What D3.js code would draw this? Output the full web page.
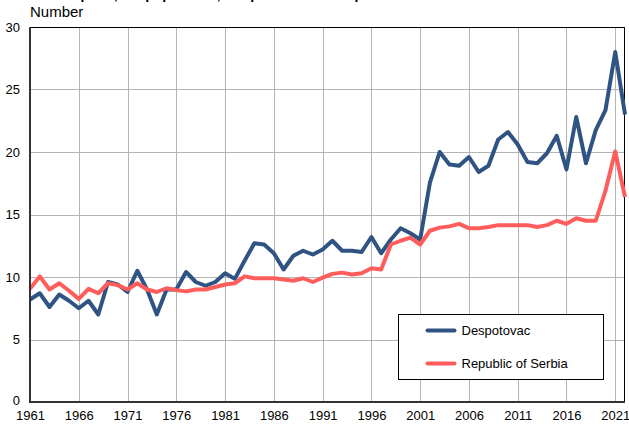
<!DOCTYPE html>
<html>
<head>
<meta charset="utf-8">
<script src="https://cdn.jsdelivr.net/npm/d3@7"></script>
<style>
  body { margin: 0; background: #fff; }
  svg { display: block; font-family: "Liberation Sans", Arial, sans-serif; }
</style>
</head>
<body>
<div id="container"></div>
<script>
// Data
const years = d3.range(1961, 2023);
const despotovac = [
    8.2, 8.7, 7.6, 8.6, 8.1, 7.5, 8.1, 7.0, 9.6, 9.4,
    8.8, 10.5, 9.0, 7.0, 9.0, 9.0, 10.4, 9.6, 9.3, 9.6,
    10.3, 9.85, 11.3, 12.7, 12.6, 11.9, 10.6, 11.7, 12.1, 11.8,
    12.2, 12.9, 12.1, 12.1, 12.0, 13.2, 11.9, 13.0, 13.9, 13.5,
    13.0, 17.55, 20.0, 19.0, 18.9, 19.6, 18.4, 18.9, 21.0, 21.6,
    20.6, 19.2, 19.1, 19.9, 21.3, 18.6, 22.8, 19.1, 21.75, 23.35,
    28.0, 23.0
];
const serbia = [
    9.05, 10.05, 9.0, 9.5, 8.9, 8.25, 9.05, 8.7, 9.5, 9.35,
    9.0, 9.5, 9.0, 8.8, 9.1, 8.95, 8.85, 9.0, 9.0, 9.2,
    9.4, 9.5, 10.05, 9.9, 9.9, 9.9, 9.8, 9.7, 9.9, 9.6,
    9.95, 10.25, 10.35, 10.2, 10.3, 10.7, 10.6, 12.6, 12.9, 13.15,
    12.6, 13.7, 13.95, 14.05, 14.25, 13.9, 13.9, 14.0, 14.15, 14.15,
    14.15, 14.15, 14.0, 14.15, 14.5, 14.25, 14.7, 14.5, 14.5, 16.9,
    20.05, 16.4
];
const xTicks = d3.range(1961, 2022, 5);
const yTicks = [0, 5, 10, 15, 20, 25, 30];

const series = [
    { name: "Despotovac", values: despotovac, color: "#2f5382" },
    { name: "Republic of Serbia", values: serbia, color: "#ff5c5c" }
];

const width = 629;
const height = 426;
const margin = { top: 27, right: 4, bottom: 24, left: 30 };

const svg = d3.select("#container").append("svg")
    .attr("width", width)
    .attr("height", height);

const x = d3.scaleLinear()
    .domain([1961, 2022])
    .range([margin.left, width - margin.right]);

const y = d3.scaleLinear()
    .domain([0, 30])
    .range([height - margin.bottom, margin.top]);

// Title (cut off at the top edge, as in the reference)
svg.append("text")
    .attr("x", 30)
    .attr("y", -1)
    .attr("font-size", 14)
    .attr("font-weight", "bold")
    .attr("fill", "#000")
    .text("Deaths per 1,000 population, Despotovac and Republic of Serbia");

svg.append("text")
    .attr("x", 30)
    .attr("y", 17)
    .attr("font-size", 15)
    .attr("fill", "#000")
    .text("Number");

// Gridlines
svg.append("g")
    .attr("stroke", "#b4b4b4")
    .attr("stroke-width", 1)
    .selectAll("line")
    .data(xTicks.slice(1))
    .join("line")
    .attr("x1", d => Math.round(x(d)) + 0.5)
    .attr("x2", d => Math.round(x(d)) + 0.5)
    .attr("y1", y(30))
    .attr("y2", y(0));

svg.append("g")
    .attr("stroke", "#b4b4b4")
    .attr("stroke-width", 1)
    .selectAll("line")
    .data(yTicks.slice(1, -1))
    .join("line")
    .attr("x1", x(1961))
    .attr("x2", x(2022))
    .attr("y1", d => Math.round(y(d)) + 0.5)
    .attr("y2", d => Math.round(y(d)) + 0.5);

// Frame: top and right thin, left and bottom heavier
svg.append("line")
    .attr("x1", x(1961)).attr("x2", x(2022))
    .attr("y1", y(30) + 0.5).attr("y2", y(30) + 0.5)
    .attr("stroke", "#000");
svg.append("line")
    .attr("x1", x(2022) - 0.5).attr("x2", x(2022) - 0.5)
    .attr("y1", y(30)).attr("y2", y(0))
    .attr("stroke", "#000");

// Axis labels
const xAxis = svg.append("g")
    .attr("transform", `translate(0,${y(0)})`)
    .call(d3.axisBottom(x).tickValues(xTicks).tickFormat(d3.format("d")).tickSize(0).tickPadding(9));
xAxis.select(".domain").remove();
xAxis.selectAll("text").attr("font-size", 13).attr("fill", "#000").attr("font-family", null);

const yAxis = svg.append("g")
    .attr("transform", `translate(${x(1961)},0)`)
    .call(d3.axisLeft(y).tickValues(yTicks).tickSize(0).tickPadding(10));
yAxis.select(".domain").remove();
yAxis.selectAll("text").attr("font-size", 13).attr("fill", "#000").attr("font-family", null);
yAxis.selectAll(".tick").filter(d => d === 0).select("text").attr("dy", "0.2em");

// Lines
const line = d3.line()
    .x((d, i) => x(years[i]))
    .y(d => y(d));

svg.append("g")
    .attr("fill", "none")
    .selectAll("path")
    .data(series)
    .join("path")
    .attr("stroke", d => d.color)
    .attr("stroke-width", 4)
    .attr("stroke-linejoin", "round")
    .attr("d", d => line(d.values));

// Axis lines drawn over
svg.append("line")
    .attr("x1", x(1961)).attr("x2", x(1961))
    .attr("y1", y(30)).attr("y2", y(0) + 1)
    .attr("stroke", "#333").attr("stroke-width", 2);
svg.append("line")
    .attr("x1", x(1961)).attr("x2", x(2022))
    .attr("y1", y(0)).attr("y2", y(0))
    .attr("stroke", "#333").attr("stroke-width", 2);

// Legend
const legend = svg.append("g").attr("transform", "translate(398.5,314.5)");
legend.append("rect")
    .attr("width", 205)
    .attr("height", 65)
    .attr("fill", "#fff")
    .attr("stroke", "#000");

legend.selectAll("g")
    .data(series)
    .join("g")
    .attr("transform", (d, i) => `translate(0,${16 + i * 33})`)
    .each(function (d) {
        const g = d3.select(this);
        g.append("line")
            .attr("x1", 29).attr("x2", 56)
            .attr("stroke", d.color)
            .attr("stroke-width", 4)
            .attr("stroke-linecap", "round");
        g.append("text")
            .attr("x", 63)
            .attr("dy", "0.35em")
            .attr("font-size", 13)
            .attr("fill", "#000")
            .text(d.name);
    });
</script>
</body>
</html>
